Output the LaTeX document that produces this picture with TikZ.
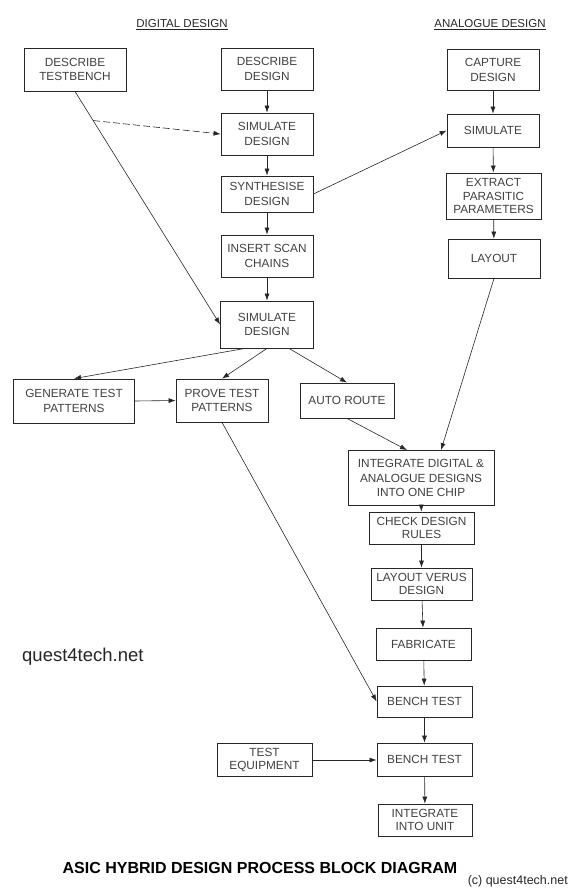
\documentclass[tikz,border=0pt]{standalone}
\usepackage{fontspec}
\setmainfont{Liberation Sans}
\usetikzlibrary{arrows.meta}
\tikzstyle{blk}=[draw=black!85, line width=0.8pt, align=center, inner sep=2pt, text=black!75, font=\fontsize{11.8}{14.8}\selectfont]
\tikzstyle{flow}=[draw=black!85, line width=0.6pt, -{Latex[length=7pt,width=5pt]}]
\tikzstyle{heading}=[text=black!85, font=\fontsize{11.5}{14}\selectfont]

\begin{document}
\begin{tikzpicture}[x=1pt,y=-1pt]
\useasboundingbox (0,0) rectangle (577,891);

\node[heading] (digital) at (182,25) {\underline{DIGITAL DESIGN}};
\node[heading] (analogue) at (490,25) {\underline{ANALOGUE DESIGN}};

% digital side
\node[blk, minimum width=102pt, minimum height=43pt] (testbench) at (75,69.5) {DESCRIBE\\TESTBENCH};
\node[blk, minimum width=92pt, minimum height=42pt] (descr) at (267,69) {DESCRIBE\\DESIGN};
\node[blk, minimum width=92pt, minimum height=42pt] (simA) at (267,134) {SIMULATE\\DESIGN};
\node[blk, minimum width=92pt, minimum height=36pt] (synth) at (267,194) {SYNTHESISE\\DESIGN};
\node[blk, minimum width=92pt, minimum height=42pt] (scan) at (267,256) {INSERT SCAN\\CHAINS};
\node[blk, minimum width=93pt, minimum height=47pt] (simB) at (267,324.5) {SIMULATE\\DESIGN};
\node[blk, minimum width=121pt, minimum height=44pt] (gen) at (74,401) {GENERATE TEST\\PATTERNS};
\node[blk, minimum width=92pt, minimum height=43pt] (prove) at (222,400.5) {PROVE TEST\\PATTERNS};
\node[blk, minimum width=94pt, minimum height=35pt] (route) at (347,400.5) {AUTO ROUTE};

% analogue side
\node[blk, minimum width=92pt, minimum height=41pt] (capture) at (493,70) {CAPTURE\\DESIGN};
\node[blk, minimum width=92pt, minimum height=33pt] (asim) at (493,130.5) {SIMULATE};
\node[blk, minimum width=95pt, minimum height=46pt, font=\fontsize{11.8}{13.8}\selectfont] (extract) at (493.5,196) {EXTRACT\\PARASITIC\\PARAMETERS};
\node[blk, minimum width=92pt, minimum height=39pt] (layout) at (494,258.5) {LAYOUT};

% chip flow
\node[blk, minimum width=146pt, minimum height=55pt] (merge) at (421,478) {INTEGRATE DIGITAL \&\\ANALOGUE DESIGNS\\INTO ONE CHIP};
\node[blk, minimum width=105pt, minimum height=32pt, font=\fontsize{11.8}{13.8}\selectfont] (drc) at (421.5,528) {CHECK DESIGN\\RULES};
\node[blk, minimum width=101pt, minimum height=32pt, font=\fontsize{11.8}{13.8}\selectfont] (lvs) at (421.5,584) {LAYOUT VERUS\\DESIGN};
\node[blk, minimum width=95pt, minimum height=32pt] (fab) at (423.5,644) {FABRICATE};
\node[blk, minimum width=95pt, minimum height=31pt] (benchA) at (424.5,701.5) {BENCH TEST};
\node[blk, minimum width=95pt, minimum height=33pt] (benchB) at (424.5,759.5) {BENCH TEST};
\node[blk, minimum width=94pt, minimum height=32pt, font=\fontsize{11.8}{13.8}\selectfont] (unit) at (425,820) {INTEGRATE\\INTO UNIT};
\node[blk, minimum width=95pt, minimum height=33pt, font=\fontsize{11.8}{13.8}\selectfont] (equip) at (264.5,760) {TEST\\EQUIPMENT};

\node[anchor=west, inner sep=0pt, text=black!85, font=\fontsize{18.5}{20}\selectfont] (site) at (22,657) {quest4tech.net};
\node[text=black, font=\bfseries\fontsize{16}{18}\selectfont] (title) at (260,868) {ASIC HYBRID DESIGN PROCESS BLOCK DIAGRAM};
\node[anchor=east, inner sep=0pt, text=black!85, font=\fontsize{12.5}{14}\selectfont] (copy) at (568,881) {(c) quest4tech.net};

% straight down arrows
\foreach \a/\b in {descr/simA, simA/synth, synth/scan, scan/simB,
    capture/asim, asim/extract, extract/layout,
    merge/drc, drc/lvs, lvs/fab, fab/benchA, benchA/benchB, benchB/unit}
  \draw[flow] (\a) -- (\b);

\draw[flow] (testbench.south) -- (simB.west);
\path (testbench.south) -- (simB.west) coordinate[pos=0.125] (tap);
\draw[flow, dash pattern=on 7pt off 3pt] (tap) -- (simA.west);
\draw[flow] (synth.east) -- (asim.west);
\draw[flow] ([xshift=-22pt]simB.south) -- (gen.north);
\draw[flow] (simB.south) -- (prove.north);
\draw[flow] ([xshift=22pt]simB.south) -- (route.north);
\draw[flow] (gen.east) -- (prove.west);
\draw[flow] (route.south) -- ([xshift=-14pt]merge.north);
\draw[flow] (layout.south) -- ([xshift=20pt]merge.north);
\draw[flow] (prove.south) -- (benchA.west);
\draw[flow] (equip.east) -- (equip.east -| benchB.west);
\end{tikzpicture}
\end{document}
